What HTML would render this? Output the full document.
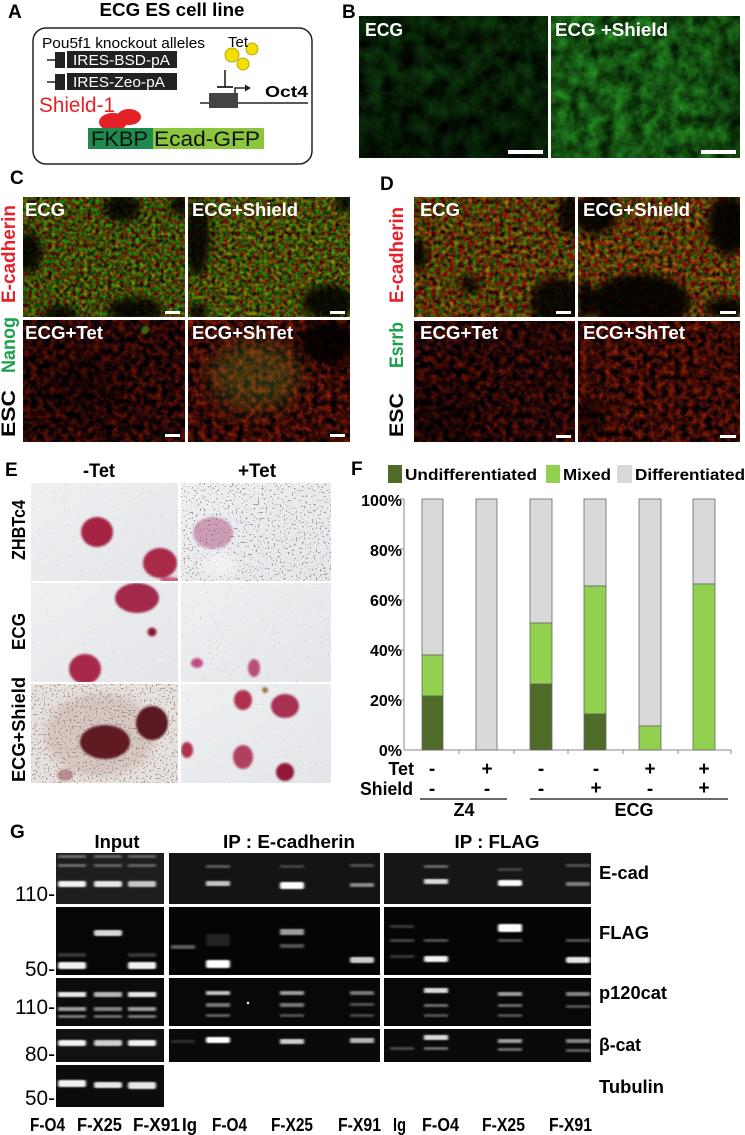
<!DOCTYPE html>
<html><head><meta charset="utf-8"><style>
html,body{margin:0;padding:0;background:#fff;}
svg{display:block;font-family:"Liberation Sans",Arial,sans-serif;}
.b{font-weight:bold;}
</style></head><body>
<svg width="745" height="1135" viewBox="0 0 745 1135" xmlns="http://www.w3.org/2000/svg">
<defs>
<filter id="tBL" x="0" y="0" width="1" height="1" color-interpolation-filters="sRGB"><feTurbulence type="fractalNoise" baseFrequency="0.06" numOctaves="4" seed="4"/><feColorMatrix type="matrix" values="0.09 0 0 0 -0.02  0.36 0 0 0 -0.06  0.09 0 0 0 -0.02  0 0 0 0 1"/></filter>
<filter id="tBR" x="0" y="0" width="1" height="1" color-interpolation-filters="sRGB"><feTurbulence type="fractalNoise" baseFrequency="0.07" numOctaves="4" seed="9"/><feColorMatrix type="matrix" values="0.2 0 0 0 -0.02  0.7 0 0 0 -0.03  0.2 0 0 0 -0.03  0 0 0 0 1"/></filter>
<filter id="tCT" x="0" y="0" width="1" height="1" color-interpolation-filters="sRGB"><feTurbulence type="fractalNoise" baseFrequency="0.25" numOctaves="2" seed="7"/><feColorMatrix type="matrix" values="0.95 0 0 0 -0.22  0 1.05 0 0 -0.25  0 0 0 0 0.03  0 0 0 0 1"/></filter>
<filter id="tCT2" x="0" y="0" width="1" height="1" color-interpolation-filters="sRGB"><feTurbulence type="fractalNoise" baseFrequency="0.25" numOctaves="2" seed="17"/><feColorMatrix type="matrix" values="0.95 0 0 0 -0.2  0 1.05 0 0 -0.24  0 0 0 0 0.03  0 0 0 0 1"/></filter>
<filter id="tCB" x="0" y="0" width="1" height="1" color-interpolation-filters="sRGB"><feTurbulence type="fractalNoise" baseFrequency="0.16" numOctaves="3" seed="21"/><feColorMatrix type="matrix" values="0.85 0 0 0 -0.28  0.15 0 0 0 -0.05  0 0 0 0 0.02  0 0 0 0 1"/></filter>
<filter id="tCB2" x="0" y="0" width="1" height="1" color-interpolation-filters="sRGB"><feTurbulence type="fractalNoise" baseFrequency="0.16" numOctaves="3" seed="33"/><feColorMatrix type="matrix" values="1.0 0 0 0 -0.28  0.22 0 0 0 -0.07  0 0 0 0 0.02  0 0 0 0 1"/></filter>
<filter id="tDT" x="0" y="0" width="1" height="1" color-interpolation-filters="sRGB"><feTurbulence type="fractalNoise" baseFrequency="0.22" numOctaves="2" seed="41"/><feColorMatrix type="matrix" values="1.05 0 0 0 -0.2  0 0.95 0 0 -0.26  0 0 0 0 0.03  0 0 0 0 1"/></filter>
<filter id="tDT2" x="0" y="0" width="1" height="1" color-interpolation-filters="sRGB"><feTurbulence type="fractalNoise" baseFrequency="0.22" numOctaves="2" seed="53"/><feColorMatrix type="matrix" values="1.05 0 0 0 -0.18  0 0.95 0 0 -0.27  0 0 0 0 0.03  0 0 0 0 1"/></filter>
<filter id="sp1" x="0" y="0" width="1" height="1" color-interpolation-filters="sRGB"><feTurbulence type="fractalNoise" baseFrequency="0.5" numOctaves="1" seed="5"/><feColorMatrix type="matrix" values="0 0 0 0 0.45  0 0 0 0 0.38  0 0 0 0 0.32  -14 0 0 0 4.3"/></filter>
<filter id="sp2" x="0" y="0" width="1" height="1" color-interpolation-filters="sRGB"><feTurbulence type="fractalNoise" baseFrequency="0.5" numOctaves="1" seed="8"/><feColorMatrix type="matrix" values="0 0 0 0 0.42  0 0 0 0 0.34  0 0 0 0 0.3  -12 0 0 0 4.7"/></filter>
<filter id="sp3" x="0" y="0" width="1" height="1" color-interpolation-filters="sRGB"><feTurbulence type="fractalNoise" baseFrequency="0.5" numOctaves="1" seed="12"/><feColorMatrix type="matrix" values="0 0 0 0 0.5  0 0 0 0 0.32  0 0 0 0 0.28  -12 0 0 0 5.0"/></filter>
<filter id="hb" x="-60%" y="-60%" width="220%" height="220%" color-interpolation-filters="sRGB"><feGaussianBlur stdDeviation="4"/></filter>
<filter id="hb2" x="-100%" y="-100%" width="300%" height="300%" color-interpolation-filters="sRGB"><feGaussianBlur stdDeviation="10"/></filter>
<filter id="cb" x="-30%" y="-30%" width="160%" height="160%" color-interpolation-filters="sRGB"><feGaussianBlur stdDeviation="1"/></filter>
<filter id="bb" filterUnits="userSpaceOnUse" x="40" y="840" width="570" height="290" color-interpolation-filters="sRGB"><feGaussianBlur stdDeviation="1.2 0.9"/></filter>
<linearGradient id="gE" x1="0" y1="0" x2="1" y2="1"><stop offset="0" stop-color="#eef0f2"/><stop offset="1" stop-color="#e4e6ea"/></linearGradient>
<linearGradient id="vB1" x1="0" y1="0" x2="0" y2="1"><stop offset="0" stop-color="#000" stop-opacity="0"/><stop offset="0.6" stop-color="#000" stop-opacity="0.05"/><stop offset="1" stop-color="#000" stop-opacity="0.35"/></linearGradient>
</defs>
<rect width="745" height="1135" fill="#fff"/>

<!-- ===== A ===== -->
<text x="8" y="18" class="b" font-size="19">A</text>
<text x="172" y="16" class="b" font-size="18" text-anchor="middle" textLength="145" lengthAdjust="spacingAndGlyphs">ECG ES cell line</text>
<rect x="33" y="28" width="279" height="136" rx="13" fill="none" stroke="#222" stroke-width="1.5"/>
<text x="42" y="48" font-size="15" textLength="163" lengthAdjust="spacingAndGlyphs">Pou5f1 knockout alleles</text>
<line x1="47" y1="60" x2="56" y2="60" stroke="#222" stroke-width="1.5"/>
<rect x="55" y="52" width="10" height="16" fill="#222"/>
<rect x="67" y="51" width="110" height="17" fill="#222"/>
<text x="73" y="65" font-size="15" fill="#fff" textLength="97" lengthAdjust="spacingAndGlyphs">IRES-BSD-pA</text>
<line x1="47" y1="82" x2="56" y2="82" stroke="#222" stroke-width="1.5"/>
<rect x="55" y="74" width="10" height="16" fill="#222"/>
<rect x="67" y="73" width="110" height="17" fill="#222"/>
<text x="73" y="87" font-size="15" fill="#fff" textLength="92" lengthAdjust="spacingAndGlyphs">IRES-Zeo-pA</text>
<ellipse cx="113" cy="122" rx="14" ry="9" fill="#e32228"/>
<ellipse cx="129" cy="117" rx="12" ry="8" fill="#e32228"/>
<text x="39" y="112" font-size="21" fill="#e32228" textLength="76" lengthAdjust="spacingAndGlyphs">Shield-1</text>
<rect x="88" y="128" width="65" height="21" fill="#1d8a4e"/>
<rect x="153" y="128" width="111" height="21" fill="#8cc63f"/>
<text x="91" y="146" font-size="21" fill="#111" textLength="57" lengthAdjust="spacingAndGlyphs">FKBP</text>
<text x="154" y="146" font-size="21" fill="#111" textLength="106" lengthAdjust="spacingAndGlyphs">Ecad-GFP</text>
<circle cx="232" cy="55" r="7" fill="#f3e000" stroke="#a89600" stroke-width="0.8"/>
<circle cx="252" cy="49" r="6" fill="#f3e000" stroke="#a89600" stroke-width="0.8"/>
<circle cx="243" cy="64" r="6" fill="#f3e000" stroke="#a89600" stroke-width="0.8"/>
<text x="228" y="47" font-size="15">Tet</text>
<line x1="225" y1="70" x2="225" y2="87" stroke="#222" stroke-width="1.6"/>
<line x1="217" y1="87" x2="233" y2="87" stroke="#222" stroke-width="1.8"/>
<line x1="200" y1="103" x2="308" y2="103" stroke="#222" stroke-width="1.5"/>
<rect x="209" y="93" width="29" height="15" fill="#444"/>
<path d="M235 93 V88 H246" fill="none" stroke="#222" stroke-width="1.5"/>
<polygon points="245,84.5 251,88 245,91.5" fill="#222"/>
<text x="265" y="97" class="b" font-size="16" textLength="43" lengthAdjust="spacingAndGlyphs">Oct4</text>

<!-- ===== B ===== -->
<text x="342" y="18" class="b" font-size="19">B</text>
<svg x="359" y="16" width="189" height="142" viewBox="359 16 189 142">
<rect x="359" y="16" width="189" height="142" filter="url(#tBL)"/>
<rect x="359" y="16" width="189" height="142" fill="url(#vB1)"/>
</svg>
<svg x="551" y="16" width="189" height="142" viewBox="551 16 189 142">
<rect x="551" y="16" width="189" height="142" filter="url(#tBR)"/>
<ellipse cx="740" cy="90" rx="25" ry="70" fill="#000" opacity="0.3" filter="url(#hb2)"/>
</svg>
<text x="365" y="36" class="b" font-size="18" fill="#fff" textLength="38" lengthAdjust="spacingAndGlyphs">ECG</text>
<text x="555" y="36" class="b" font-size="18" fill="#fff" textLength="113" lengthAdjust="spacingAndGlyphs">ECG +Shield</text>
<rect x="508" y="150" width="35" height="4" fill="#fff"/>
<rect x="701" y="150" width="35" height="4" fill="#fff"/>

<!-- ===== C ===== -->
<text x="10" y="184" class="b" font-size="19">C</text>
<svg x="23" y="197" width="162" height="120" viewBox="23 197 162 120">
<rect x="23" y="197" width="162" height="120" filter="url(#tCT)"/>
<g fill="#000" filter="url(#hb)" opacity="0.85">
<ellipse cx="122" cy="208" rx="18" ry="14"/><ellipse cx="28" cy="252" rx="14" ry="20"/>
<ellipse cx="135" cy="310" rx="28" ry="12"/><ellipse cx="60" cy="314" rx="18" ry="8"/>
<ellipse cx="180" cy="205" rx="10" ry="10"/></g>
</svg>
<svg x="188" y="197" width="162" height="120" viewBox="188 197 162 120">
<rect x="188" y="197" width="162" height="120" filter="url(#tCT2)"/>
<g fill="#000" filter="url(#hb)" opacity="0.85">
<ellipse cx="197" cy="238" rx="13" ry="38"/><ellipse cx="328" cy="302" rx="26" ry="17"/>
<ellipse cx="345" cy="202" rx="8" ry="10"/><ellipse cx="198" cy="312" rx="10" ry="8"/></g>
</svg>
<svg x="23" y="320" width="162" height="122" viewBox="23 320 162 122">
<rect x="23" y="320" width="162" height="122" filter="url(#tCB)"/>
<ellipse cx="80" cy="390" rx="40" ry="30" fill="#000" opacity="0.3" filter="url(#hb2)"/>
<circle cx="145" cy="330" r="4" fill="#6c2" opacity="0.5" filter="url(#cb)"/>
</svg>
<svg x="188" y="320" width="162" height="122" viewBox="188 320 162 122">
<rect x="188" y="320" width="162" height="122" filter="url(#tCB2)"/>
<ellipse cx="255" cy="375" rx="45" ry="35" fill="#8c3" opacity="0.22" filter="url(#hb2)"/>
<ellipse cx="328" cy="342" rx="28" ry="22" fill="#000" opacity="0.85" filter="url(#hb)"/>
</svg>
<g class="b" font-size="18" fill="#fff">
<text x="25" y="216" textLength="40" lengthAdjust="spacingAndGlyphs">ECG</text>
<text x="192" y="216" textLength="106" lengthAdjust="spacingAndGlyphs">ECG+Shield</text>
<text x="25" y="339" textLength="78" lengthAdjust="spacingAndGlyphs">ECG+Tet</text>
<text x="192" y="339" textLength="101" lengthAdjust="spacingAndGlyphs">ECG+ShTet</text>
</g>
<g fill="#fff"><rect x="165" y="311" width="15" height="3"/><rect x="330" y="311" width="15" height="3"/><rect x="165" y="434" width="15" height="3"/><rect x="330" y="434" width="15" height="3"/></g>
<g class="b" font-size="19">
<text transform="translate(15,437) rotate(-90)" textLength="47" lengthAdjust="spacingAndGlyphs">ESC</text>
<text transform="translate(15,373) rotate(-90)" fill="#1aa04a" textLength="56" lengthAdjust="spacingAndGlyphs">Nanog</text>
<text transform="translate(15,303) rotate(-90)" fill="#e8202a" textLength="98" lengthAdjust="spacingAndGlyphs">E-cadherin</text>
</g>

<!-- ===== D ===== -->
<text x="380" y="190" class="b" font-size="19">D</text>
<svg x="414" y="197" width="161" height="120" viewBox="414 197 161 120">
<rect x="414" y="197" width="161" height="120" filter="url(#tDT)"/>
<g fill="#000" filter="url(#hb)" opacity="0.85">
<ellipse cx="558" cy="302" rx="28" ry="24"/><ellipse cx="418" cy="255" rx="9" ry="15"/>
<ellipse cx="570" cy="215" rx="12" ry="20"/><ellipse cx="470" cy="285" rx="10" ry="8"/></g>
</svg>
<svg x="578" y="197" width="162" height="120" viewBox="578 197 162 120">
<rect x="578" y="197" width="162" height="120" filter="url(#tDT2)"/>
<g fill="#000" filter="url(#hb)" opacity="0.9">
<ellipse cx="595" cy="214" rx="22" ry="20"/><ellipse cx="640" cy="302" rx="50" ry="28"/>
<ellipse cx="728" cy="225" rx="20" ry="30"/><ellipse cx="725" cy="308" rx="20" ry="10"/>
<ellipse cx="585" cy="300" rx="8" ry="20"/></g>
</svg>
<svg x="414" y="321" width="161" height="121" viewBox="414 321 161 121">
<rect x="414" y="321" width="161" height="121" filter="url(#tCB)"/>
<ellipse cx="440" cy="420" rx="40" ry="30" fill="#000" opacity="0.35" filter="url(#hb2)"/>
</svg>
<svg x="578" y="321" width="162" height="121" viewBox="578 321 162 121">
<rect x="578" y="321" width="162" height="121" filter="url(#tCB2)"/>
<ellipse cx="590" cy="420" rx="14" ry="20" fill="#000" opacity="0.45" filter="url(#hb)"/>
</svg>
<g class="b" font-size="18" fill="#fff">
<text x="420" y="216" textLength="40" lengthAdjust="spacingAndGlyphs">ECG</text>
<text x="583" y="216" textLength="107" lengthAdjust="spacingAndGlyphs">ECG+Shield</text>
<text x="420" y="339" textLength="78" lengthAdjust="spacingAndGlyphs">ECG+Tet</text>
<text x="583" y="339" textLength="102" lengthAdjust="spacingAndGlyphs">ECG+ShTet</text>
</g>
<g fill="#fff"><rect x="556" y="311" width="15" height="3"/><rect x="720" y="311" width="16" height="3"/><rect x="556" y="435" width="15" height="3"/><rect x="720" y="435" width="16" height="3"/></g>
<g class="b" font-size="19">
<text transform="translate(403,437) rotate(-90)" textLength="44" lengthAdjust="spacingAndGlyphs">ESC</text>
<text transform="translate(403,368) rotate(-90)" fill="#1aa04a" textLength="46" lengthAdjust="spacingAndGlyphs">Esrrb</text>
<text transform="translate(403,303) rotate(-90)" fill="#e8202a" textLength="96" lengthAdjust="spacingAndGlyphs">E-cadherin</text>
</g>

<!-- ===== E ===== -->
<text x="5" y="476" class="b" font-size="19">E</text>
<text x="99" y="477" class="b" font-size="19" text-anchor="middle" textLength="32" lengthAdjust="spacingAndGlyphs">-Tet</text>
<text x="257" y="477" class="b" font-size="19" text-anchor="middle" textLength="38" lengthAdjust="spacingAndGlyphs">+Tet</text>
<g class="b" font-size="18">
<text transform="translate(25,560) rotate(-90)" textLength="60" lengthAdjust="spacingAndGlyphs">ZHBTc4</text>
<text transform="translate(25,650) rotate(-90)" textLength="37" lengthAdjust="spacingAndGlyphs">ECG</text>
<text transform="translate(25,782) rotate(-90)" textLength="105" lengthAdjust="spacingAndGlyphs">ECG+Shield</text>
</g>
<!-- row1 -->
<svg x="31" y="483" width="147" height="98" viewBox="31 483 147 98">
<rect x="31" y="483" width="147" height="98" fill="url(#gE)"/>
<rect x="31" y="483" width="147" height="98" filter="url(#sp1)" opacity="0.15"/>
<g filter="url(#cb)"><ellipse cx="97" cy="532" rx="16" ry="15" fill="#a52443"/><ellipse cx="160" cy="563" rx="17" ry="15" fill="#a82a48"/><ellipse cx="170" cy="580" rx="10" ry="3" fill="#c46080"/></g>
</svg>
<svg x="181" y="483" width="150" height="98" viewBox="181 483 150 98">
<rect x="181" y="483" width="150" height="98" fill="url(#gE)"/>
<rect x="181" y="483" width="150" height="98" filter="url(#sp2)" opacity="0.55"/>
<ellipse cx="213" cy="533" rx="20" ry="16" fill="#b05080" opacity="0.5" filter="url(#cb)"/>
<ellipse cx="220" cy="565" rx="18" ry="12" fill="#f4f4f6" opacity="0.8" filter="url(#hb)"/>
</svg>
<!-- row2 -->
<svg x="31" y="583" width="147" height="99" viewBox="31 583 147 99">
<rect x="31" y="583" width="147" height="99" fill="url(#gE)"/>
<rect x="31" y="583" width="147" height="99" filter="url(#sp1)" opacity="0.12"/>
<g filter="url(#cb)"><ellipse cx="137" cy="598" rx="22" ry="15" fill="#a2294a"/><circle cx="152" cy="632" r="4.5" fill="#8a1a35"/><ellipse cx="85" cy="669" rx="16" ry="15" fill="#a8284a"/></g>
</svg>
<svg x="181" y="583" width="150" height="99" viewBox="181 583 150 99">
<rect x="181" y="583" width="150" height="99" fill="url(#gE)"/>
<rect x="181" y="583" width="150" height="99" filter="url(#sp1)" opacity="0.25"/>
<g filter="url(#cb)"><ellipse cx="197" cy="663" rx="6" ry="5" fill="#c05080"/><ellipse cx="254" cy="668" rx="6" ry="9" fill="#b8507a"/></g>
</svg>
<!-- row3 -->
<svg x="31" y="684" width="147" height="99" viewBox="31 684 147 99">
<rect x="31" y="684" width="147" height="99" fill="#e6e2de"/>
<ellipse cx="100" cy="735" rx="55" ry="42" fill="#b89890" opacity="0.35" filter="url(#hb)"/>
<rect x="31" y="684" width="147" height="99" filter="url(#sp3)" opacity="0.45"/>
<g filter="url(#cb)"><ellipse cx="105" cy="742" rx="25" ry="17" fill="#5f1a22"/><ellipse cx="152" cy="723" rx="16" ry="17" fill="#5a1820"/><ellipse cx="65" cy="775" rx="8" ry="6" fill="#9a5a60" opacity="0.6"/></g>
</svg>
<svg x="181" y="684" width="150" height="99" viewBox="181 684 150 99">
<rect x="181" y="684" width="150" height="99" fill="url(#gE)"/>
<rect x="181" y="684" width="150" height="99" filter="url(#sp1)" opacity="0.15"/>
<g filter="url(#cb)"><ellipse cx="243" cy="700" rx="9" ry="10" fill="#b03050"/><ellipse cx="285" cy="706" rx="14" ry="12" fill="#a83050"/><ellipse cx="187" cy="750" rx="6" ry="8" fill="#b03050"/><ellipse cx="243" cy="757" rx="10" ry="12" fill="#b04060"/><ellipse cx="285" cy="772" rx="9" ry="9" fill="#901838"/><circle cx="265" cy="690" r="3" fill="#a07040"/></g>
</svg>

<!-- ===== F ===== -->
<text x="351" y="475" class="b" font-size="19">F</text>
<rect x="388" y="465" width="14" height="18" fill="#4e6b27"/>
<text x="405" y="480" class="b" font-size="16" textLength="132" lengthAdjust="spacingAndGlyphs">Undifferentiated</text>
<rect x="546" y="465" width="14" height="18" fill="#92d050"/>
<text x="563" y="480" class="b" font-size="16" textLength="48" lengthAdjust="spacingAndGlyphs">Mixed</text>
<rect x="617" y="465" width="15" height="18" fill="#d9d9d9"/>
<text x="635" y="480" class="b" font-size="16" textLength="110" lengthAdjust="spacingAndGlyphs">Differentiated</text>
<g class="b" font-size="16" text-anchor="end">
<text x="402" y="506">100%</text><text x="402" y="556">80%</text><text x="402" y="606">60%</text>
<text x="402" y="656">40%</text><text x="402" y="706">20%</text><text x="402" y="756">0%</text>
</g>
<g stroke="#888" stroke-width="1">
<line x1="404" y1="499" x2="404" y2="750"/><line x1="404" y1="750" x2="731" y2="750"/>
<line x1="400" y1="499" x2="404" y2="499"/><line x1="400" y1="549" x2="404" y2="549"/><line x1="400" y1="600" x2="404" y2="600"/><line x1="400" y1="650" x2="404" y2="650"/><line x1="400" y1="700" x2="404" y2="700"/>
<line x1="459" y1="750" x2="459" y2="754"/><line x1="514" y1="750" x2="514" y2="754"/><line x1="568" y1="750" x2="568" y2="754"/><line x1="623" y1="750" x2="623" y2="754"/><line x1="678" y1="750" x2="678" y2="754"/><line x1="731" y1="750" x2="731" y2="754"/>
</g>
<g stroke="#666" stroke-width="0.8">
<rect x="422" y="499" width="21" height="156" fill="#d9d9d9"/>
<rect x="422" y="655" width="21" height="41" fill="#92d050"/>
<rect x="422" y="696" width="21" height="54" fill="#4e6b27"/>
<rect x="476" y="499" width="21" height="251" fill="#d9d9d9"/>
<rect x="530" y="499" width="22" height="124" fill="#d9d9d9"/>
<rect x="530" y="623" width="22" height="61" fill="#92d050"/>
<rect x="530" y="684" width="22" height="66" fill="#4e6b27"/>
<rect x="584" y="499" width="22" height="87" fill="#d9d9d9"/>
<rect x="584" y="586" width="22" height="128" fill="#92d050"/>
<rect x="584" y="714" width="22" height="36" fill="#4e6b27"/>
<rect x="639" y="499" width="22" height="227" fill="#d9d9d9"/>
<rect x="639" y="726" width="22" height="24" fill="#92d050"/>
<rect x="693" y="499" width="22" height="85" fill="#d9d9d9"/>
<rect x="693" y="584" width="22" height="166" fill="#92d050"/>
</g>
<g class="b" font-size="18">
<text x="414" y="775" text-anchor="end">Tet</text>
<text x="413" y="795" text-anchor="end" textLength="53" lengthAdjust="spacingAndGlyphs">Shield</text>
</g>
<g class="b" font-size="19" text-anchor="middle">
<text x="432" y="775">-</text><text x="487" y="775">+</text><text x="541" y="775">-</text><text x="596" y="775">-</text><text x="650" y="775">+</text><text x="704" y="775">+</text>
<text x="432" y="795">-</text><text x="487" y="795">-</text><text x="541" y="795">-</text><text x="596" y="794">+</text><text x="650" y="795">-</text><text x="704" y="794">+</text>
</g>
<line x1="420" y1="799" x2="507" y2="799" stroke="#111" stroke-width="1.2"/>
<line x1="530" y1="799" x2="728" y2="799" stroke="#111" stroke-width="1.2"/>
<text x="464" y="816" class="b" font-size="18" text-anchor="middle">Z4</text>
<text x="634" y="816" class="b" font-size="18" text-anchor="middle">ECG</text>

<!-- ===== G ===== -->
<text x="10" y="838" class="b" font-size="19">G</text>
<text x="117" y="848" class="b" font-size="18" text-anchor="middle" textLength="45" lengthAdjust="spacingAndGlyphs">Input</text>
<text x="289" y="848" class="b" font-size="18" text-anchor="middle" textLength="132" lengthAdjust="spacingAndGlyphs">IP : E-cadherin</text>
<text x="497" y="848" class="b" font-size="18" text-anchor="middle" textLength="85" lengthAdjust="spacingAndGlyphs">IP : FLAG</text>

<rect x="56" y="853" width="108" height="51" fill="#1e1e1e"/>
<rect x="56" y="907" width="108" height="68" fill="#060606"/>
<rect x="56" y="978" width="108" height="48" fill="#0b0b0b"/>
<rect x="56" y="1029" width="108" height="33" fill="#111"/>
<rect x="56" y="1065" width="108" height="42" fill="#0c0c0c"/>
<rect x="169" y="853" width="211" height="51" fill="#141414"/>
<rect x="169" y="907" width="211" height="68" fill="#050505"/>
<rect x="169" y="978" width="211" height="48" fill="#080808"/>
<rect x="169" y="1029" width="211" height="33" fill="#0a0a0a"/>
<rect x="384" y="853" width="207" height="51" fill="#161616"/>
<rect x="384" y="907" width="207" height="68" fill="#050505"/>
<rect x="384" y="978" width="207" height="48" fill="#080808"/>
<rect x="384" y="1029" width="207" height="33" fill="#0a0a0a"/>

<g fill="#fff" filter="url(#bb)">
<rect x="58" y="855" width="28" height="3" opacity="0.35"/><rect x="58" y="864" width="28" height="3" opacity="0.35"/><rect x="58" y="881" width="28" height="6" rx="2" opacity="0.95"/>
<rect x="94" y="855" width="28" height="3" opacity="0.3"/><rect x="94" y="864" width="28" height="3" opacity="0.3"/><rect x="94" y="881" width="28" height="6" rx="2" opacity="0.9"/>
<rect x="128" y="855" width="28" height="3" opacity="0.3"/><rect x="128" y="864" width="28" height="3" opacity="0.3"/><rect x="128" y="881" width="28" height="6" rx="2" opacity="0.75"/>
<rect x="94" y="930" width="28" height="6" rx="2" opacity="0.85"/>
<rect x="58" y="962" width="28" height="7" rx="2" opacity="0.95"/><rect x="58" y="953" width="28" height="4" opacity="0.2"/>
<rect x="128" y="962" width="28" height="7" rx="2" opacity="0.95"/><rect x="128" y="953" width="28" height="4" opacity="0.2"/>
<rect x="58" y="992" width="28" height="5" opacity="0.9"/><rect x="58" y="1007" width="28" height="4" opacity="0.6"/><rect x="58" y="1015" width="28" height="3" opacity="0.45"/>
<rect x="94" y="992" width="28" height="5" opacity="0.7"/><rect x="94" y="1007" width="28" height="4" opacity="0.5"/><rect x="94" y="1015" width="28" height="3" opacity="0.4"/>
<rect x="128" y="992" width="28" height="5" opacity="0.9"/><rect x="128" y="1007" width="28" height="4" opacity="0.6"/><rect x="128" y="1015" width="28" height="3" opacity="0.45"/>
<rect x="58" y="1040" width="28" height="6" rx="2" opacity="0.95"/><rect x="94" y="1040" width="28" height="6" rx="2" opacity="0.8"/><rect x="128" y="1040" width="28" height="6" rx="2" opacity="0.95"/>
<rect x="58" y="1080" width="28" height="7" rx="2" opacity="0.95"/><rect x="94" y="1082" width="28" height="6" rx="2" opacity="0.9"/><rect x="128" y="1082" width="28" height="7" rx="2" opacity="0.9"/>

<rect x="206" y="865" width="24" height="3" opacity="0.3"/><rect x="206" y="881" width="24" height="5" opacity="0.75"/>
<rect x="280" y="865" width="24" height="3" opacity="0.2"/><rect x="280" y="882" width="24" height="7" rx="2" opacity="1"/>
<rect x="350" y="864" width="24" height="3" opacity="0.25"/><rect x="350" y="883" width="24" height="4" opacity="0.5"/>
<rect x="171" y="945" width="24" height="4" opacity="0.35"/>
<rect x="206" y="934" width="24" height="12" opacity="0.12"/><rect x="206" y="960" width="24" height="8" rx="2" opacity="1"/>
<rect x="280" y="929" width="24" height="6" opacity="0.6"/><rect x="280" y="944" width="24" height="4" opacity="0.3"/>
<rect x="350" y="957" width="24" height="6" rx="2" opacity="0.8"/>
<rect x="206" y="991" width="24" height="4" opacity="0.75"/><rect x="206" y="1003" width="24" height="4" opacity="0.45"/><rect x="206" y="1014" width="24" height="3" opacity="0.35"/>
<rect x="280" y="991" width="24" height="4" opacity="0.6"/><rect x="280" y="1003" width="24" height="4" opacity="0.45"/><rect x="280" y="1014" width="24" height="3" opacity="0.3"/>
<rect x="350" y="991" width="24" height="4" opacity="0.45"/><rect x="350" y="1003" width="24" height="3" opacity="0.3"/><rect x="350" y="1014" width="24" height="3" opacity="0.25"/>
<rect x="171" y="1040" width="24" height="3" opacity="0.15"/><rect x="206" y="1037" width="24" height="6" rx="2" opacity="1"/>
<rect x="280" y="1039" width="24" height="5" opacity="0.8"/><rect x="350" y="1038" width="24" height="5" opacity="0.7"/>

<rect x="424" y="865" width="24" height="3" opacity="0.35"/><rect x="424" y="879" width="24" height="5" opacity="0.85"/>
<rect x="498" y="868" width="24" height="3" opacity="0.2"/><rect x="498" y="880" width="24" height="6" rx="2" opacity="1"/>
<rect x="566" y="864" width="24" height="3" opacity="0.25"/><rect x="566" y="882" width="24" height="4" opacity="0.45"/>
<rect x="390" y="925" width="24" height="3" opacity="0.2"/><rect x="390" y="939" width="24" height="3" opacity="0.25"/><rect x="390" y="955" width="24" height="3" opacity="0.2"/>
<rect x="424" y="939" width="24" height="3" opacity="0.3"/><rect x="424" y="956" width="24" height="6" rx="2" opacity="0.95"/>
<rect x="498" y="924" width="24" height="8" rx="2" opacity="1"/><rect x="498" y="939" width="24" height="3" opacity="0.3"/>
<rect x="566" y="939" width="24" height="3" opacity="0.3"/><rect x="566" y="957" width="24" height="6" rx="2" opacity="0.9"/>
<rect x="424" y="988" width="24" height="5" opacity="0.85"/><rect x="424" y="1004" width="24" height="3" opacity="0.4"/><rect x="424" y="1014" width="24" height="3" opacity="0.3"/>
<rect x="498" y="992" width="24" height="4" opacity="0.6"/><rect x="498" y="1004" width="24" height="3" opacity="0.4"/><rect x="498" y="1014" width="24" height="3" opacity="0.3"/>
<rect x="566" y="992" width="24" height="4" opacity="0.5"/><rect x="566" y="1005" width="24" height="3" opacity="0.3"/>
<rect x="390" y="1047" width="24" height="3" opacity="0.25"/>
<rect x="424" y="1035" width="24" height="5" opacity="0.85"/><rect x="424" y="1047" width="24" height="3" opacity="0.4"/>
<rect x="498" y="1039" width="24" height="4" opacity="0.6"/><rect x="498" y="1048" width="24" height="3" opacity="0.4"/>
<rect x="566" y="1039" width="24" height="4" opacity="0.5"/><rect x="566" y="1049" width="24" height="3" opacity="0.35"/>
</g>
<circle cx="248" cy="1003" r="1.2" fill="#fff"/>

<g font-size="21">
<text x="15" y="901" textLength="40" lengthAdjust="spacingAndGlyphs">110-</text>
<text x="25" y="976" textLength="30" lengthAdjust="spacingAndGlyphs">50-</text>
<text x="15" y="1014" textLength="40" lengthAdjust="spacingAndGlyphs">110-</text>
<text x="25" y="1061" textLength="30" lengthAdjust="spacingAndGlyphs">80-</text>
<text x="25" y="1105" textLength="30" lengthAdjust="spacingAndGlyphs">50-</text>
</g>
<g class="b" font-size="18">
<text x="599" y="879" textLength="50" lengthAdjust="spacingAndGlyphs">E-cad</text>
<text x="599" y="939" textLength="50" lengthAdjust="spacingAndGlyphs">FLAG</text>
<text x="599" y="999" textLength="68" lengthAdjust="spacingAndGlyphs">p120cat</text>
<text x="599" y="1051" textLength="42" lengthAdjust="spacingAndGlyphs">β-cat</text>
<text x="599" y="1093" textLength="65" lengthAdjust="spacingAndGlyphs">Tubulin</text>
</g>
<g class="b" font-size="18">
<text x="30" y="1131" textLength="35" lengthAdjust="spacingAndGlyphs">F-O4</text>
<text x="77" y="1131" textLength="45" lengthAdjust="spacingAndGlyphs">F-X25</text>
<text x="133" y="1131" textLength="47" lengthAdjust="spacingAndGlyphs">F-X91</text>
<text x="182" y="1131" textLength="15" lengthAdjust="spacingAndGlyphs">Ig</text>
<text x="212" y="1131" textLength="35" lengthAdjust="spacingAndGlyphs">F-O4</text>
<text x="271" y="1131" textLength="42" lengthAdjust="spacingAndGlyphs">F-X25</text>
<text x="338" y="1131" textLength="43" lengthAdjust="spacingAndGlyphs">F-X91</text>
<text x="393" y="1131" textLength="13" lengthAdjust="spacingAndGlyphs">Ig</text>
<text x="422" y="1131" textLength="37" lengthAdjust="spacingAndGlyphs">F-O4</text>
<text x="482" y="1131" textLength="43" lengthAdjust="spacingAndGlyphs">F-X25</text>
<text x="549" y="1131" textLength="43" lengthAdjust="spacingAndGlyphs">F-X91</text>
</g>
</svg>
</body></html>
